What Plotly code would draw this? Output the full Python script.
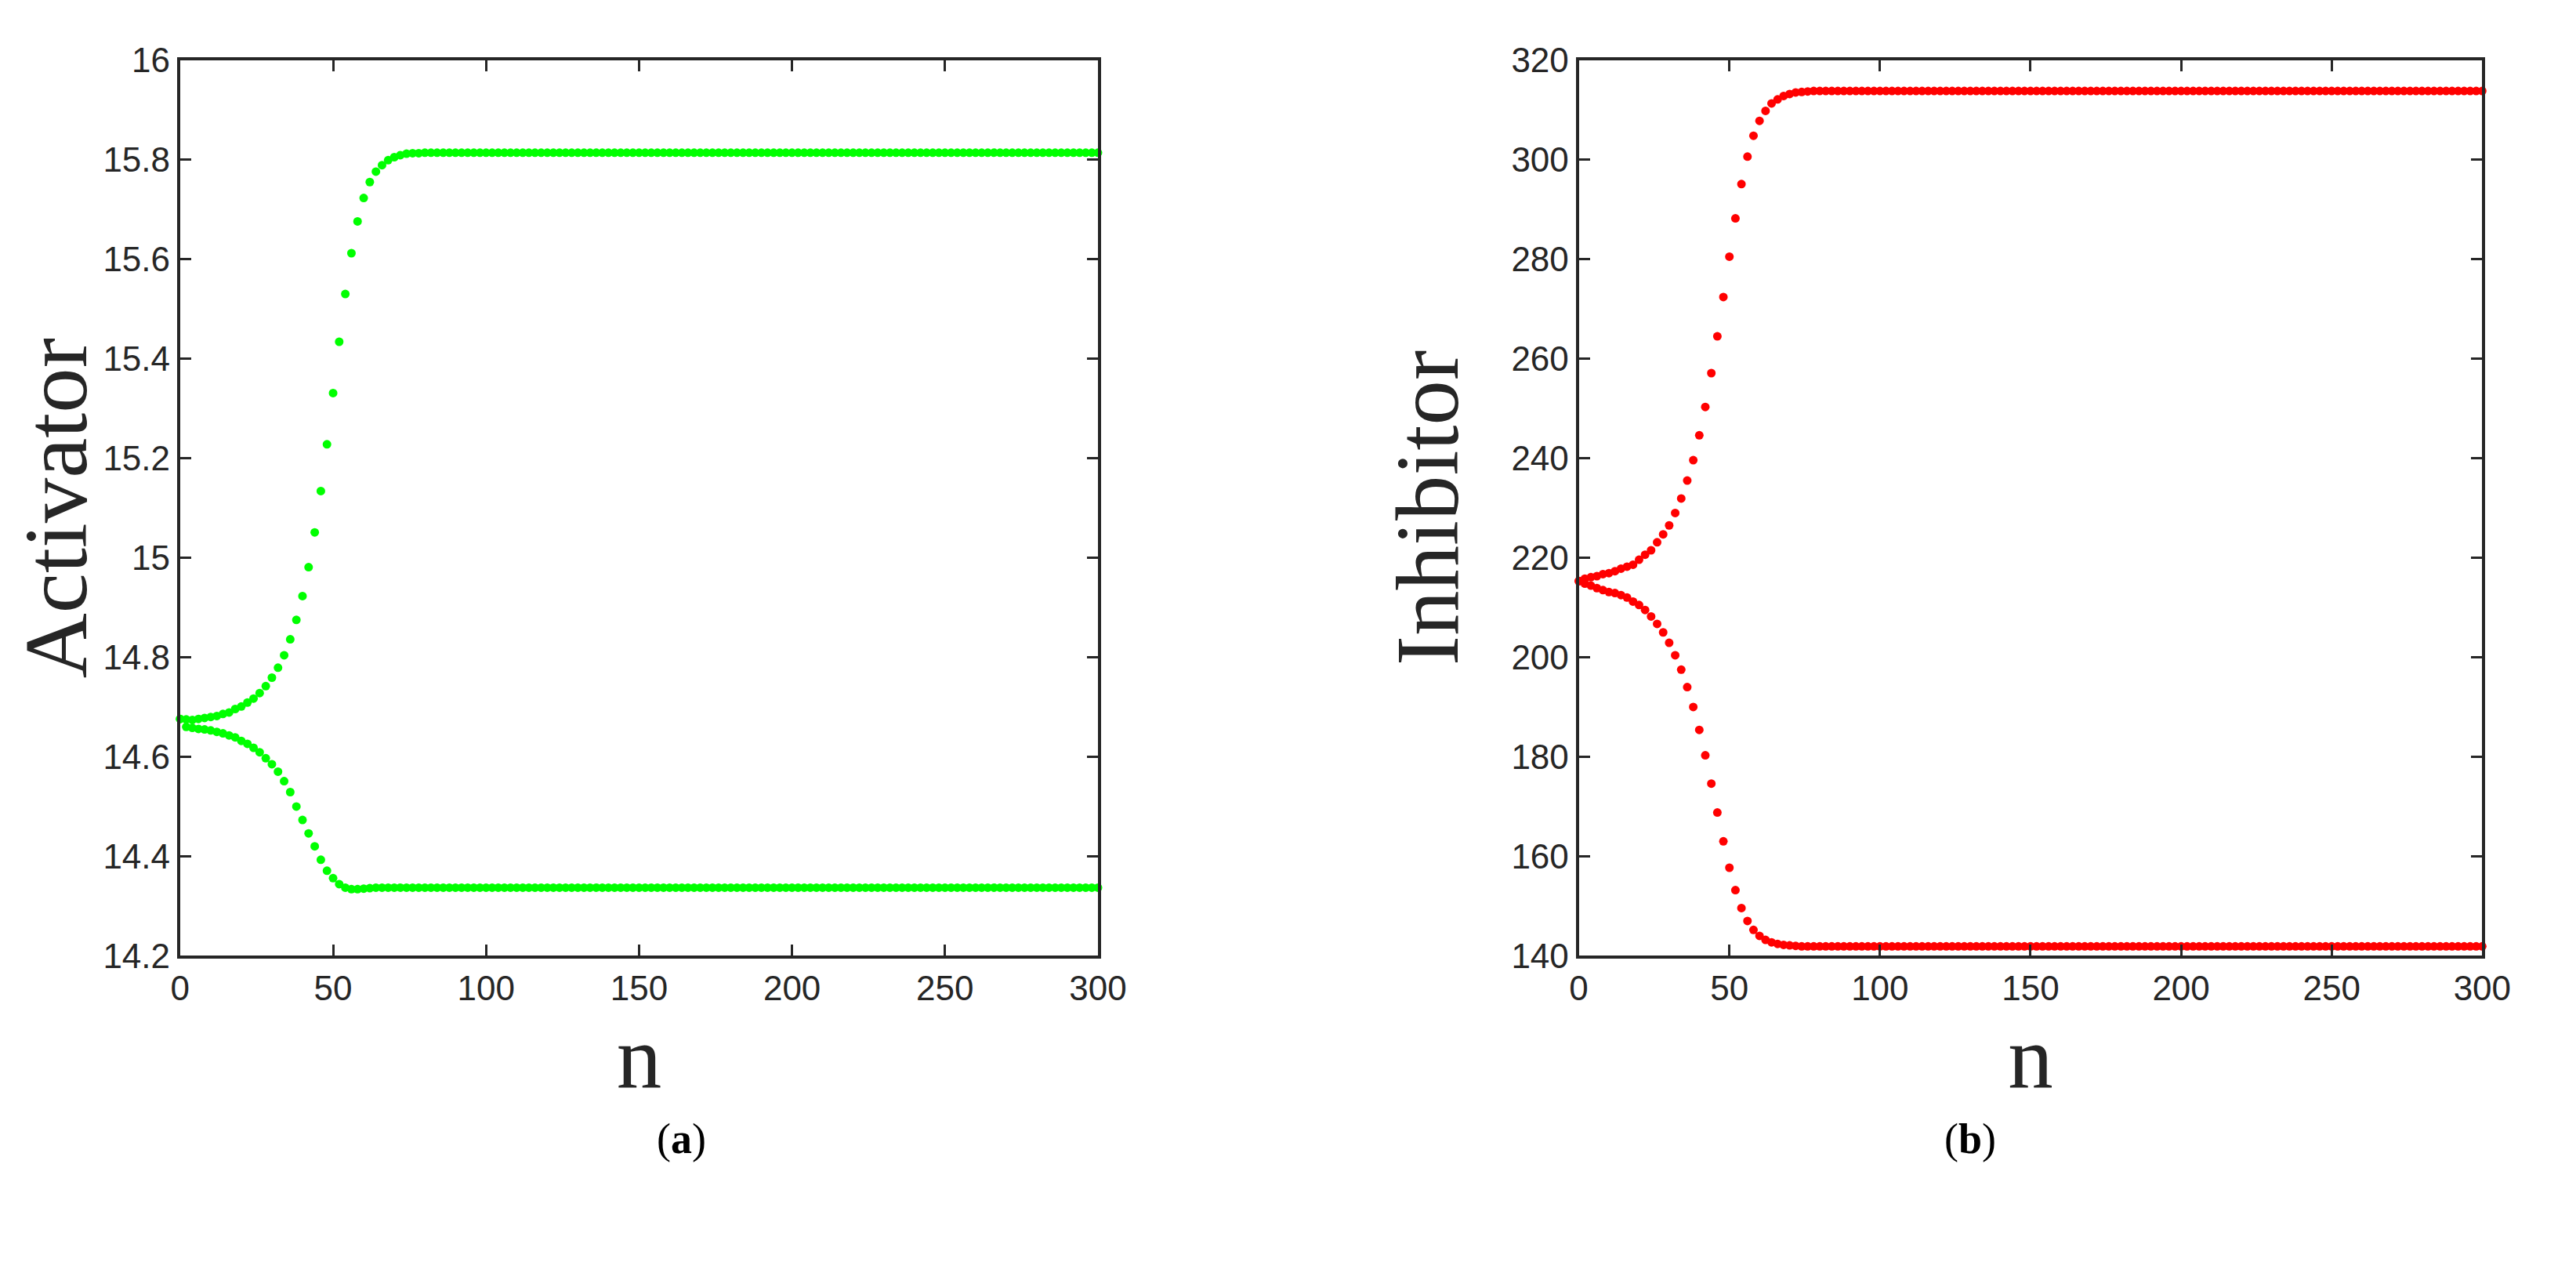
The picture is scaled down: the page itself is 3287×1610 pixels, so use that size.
import plotly.graph_objects as go

# n values (every 2 steps)
n = list(range(0, 301, 2))

act_upper = [14.676, 14.675, 14.674, 14.676, 14.678, 14.680, 14.682, 14.686, 14.689, 14.696, 14.701,
             14.709, 14.717, 14.728, 14.742, 14.759, 14.779, 14.804, 14.836, 14.875, 14.923,
             14.981, 15.051, 15.134, 15.228, 15.331, 15.434, 15.530, 15.612, 15.676, 15.723,
             15.755, 15.776, 15.789, 15.799, 15.805, 15.809, 15.812, 15.813, 15.813]
act_upper = act_upper + [15.814] * (len(n) - len(act_upper))

act_lower = [14.676, 14.660, 14.658, 14.656, 14.655, 14.653, 14.650, 14.647, 14.643, 14.639,
             14.632, 14.626, 14.618, 14.609, 14.597, 14.585, 14.570, 14.551, 14.529, 14.500,
             14.473, 14.446, 14.420, 14.393, 14.371, 14.356, 14.344, 14.337, 14.334, 14.334,
             14.335, 14.336]
act_lower = act_lower + [14.337] * (len(n) - len(act_lower))

inh_upper = [215.3, 215.8, 216.1, 216.3, 216.7, 216.9, 217.3, 217.8, 218.2, 218.6, 219.6,
             220.6, 221.5, 223.1, 224.7, 226.5, 229.0, 231.9, 235.5, 239.6, 244.6, 250.3,
             257.1, 264.5, 272.4, 280.5, 288.2, 295.1, 300.6, 304.8, 307.8, 309.8, 311.3,
             312.1, 312.8, 313.2, 313.5, 313.6, 313.7]
inh_upper = inh_upper + [313.8] * (len(n) - len(inh_upper))

inh_lower = [215.3, 214.8, 214.4, 213.9, 213.5, 213.1, 212.9, 212.5, 212.0, 211.2, 210.5,
             209.5, 208.2, 206.7, 205.0, 202.9, 200.4, 197.5, 194.0, 190.0, 185.4, 180.3,
             174.6, 168.8, 163.0, 157.7, 153.2, 149.6, 147.0, 145.2, 144.0, 143.2, 142.7,
             142.4, 142.2, 142.1, 142.0]
inh_lower = inh_lower + [141.9] * (len(n) - len(inh_lower))

GREEN = "#00ff00"
RED = "#ff0000"
AX = "#262626"

fig = go.Figure()
mk = dict(size=11, line=dict(width=0))
fig.add_trace(go.Scatter(x=n, y=act_upper, mode="markers", marker=dict(color=GREEN, **mk), xaxis="x", yaxis="y", cliponaxis=False))
fig.add_trace(go.Scatter(x=n, y=act_lower, mode="markers", marker=dict(color=GREEN, **mk), xaxis="x", yaxis="y", cliponaxis=False))
fig.add_trace(go.Scatter(x=n, y=inh_upper, mode="markers", marker=dict(color=RED, **mk), xaxis="x2", yaxis="y2", cliponaxis=False))
fig.add_trace(go.Scatter(x=n, y=inh_lower, mode="markers", marker=dict(color=RED, **mk), xaxis="x2", yaxis="y2", cliponaxis=False))

tickfont = dict(family="Liberation Sans Narrow, Liberation Sans, Arial", size=44, color=AX)
titlefont = dict(family="Liberation Serif, Times New Roman", size=115, color=AX)

def xax(dom, anchor):
    return dict(domain=dom, anchor=anchor, range=[0, 300], tickvals=[0, 50, 100, 150, 200, 250, 300],
                ticks="inside", ticklen=14, tickwidth=3, tickcolor=AX, showline=True, linewidth=4,
                linecolor=AX, mirror="ticks", showgrid=False, zeroline=False, tickfont=tickfont,
                title=dict(text="n", font=titlefont, standoff=8))

def yax(dom, anchor, rng, dt, title):
    return dict(domain=dom, anchor=anchor, range=rng, dtick=dt, ticks="inside", ticklen=14, tickwidth=3,
                tickcolor=AX, showline=True, linewidth=4, linecolor=AX, mirror="ticks", showgrid=False,
                zeroline=False, tickfont=tickfont, title=dict(text=title, font=titlefont, standoff=30))

fig.update_layout(
    width=3287, height=1610, showlegend=False,
    paper_bgcolor="white", plot_bgcolor="white",
    margin=dict(l=0, r=0, t=0, b=0),
    xaxis=xax([0.0648, 0.4265], "y"),
    yaxis=yax([0.24, 0.972], "x", [14.2, 16], 0.2, "Activator"),
    xaxis2=xax([0.616, 0.972], "y2"),
    yaxis2=yax([0.24, 0.972], "x2", [140, 320], 20, "Inhibitor"),
    annotations=[
        dict(text="(<b>a</b>)", x=0.252, y=0.07, xref="paper", yref="paper", showarrow=False,
             font=dict(family="Liberation Serif", size=54, color="black")),
        dict(text="(<b>b</b>)", x=0.781, y=0.07, xref="paper", yref="paper", showarrow=False,
             font=dict(family="Liberation Serif", size=54, color="black")),
    ],
)
fig.write_html("out.html")
